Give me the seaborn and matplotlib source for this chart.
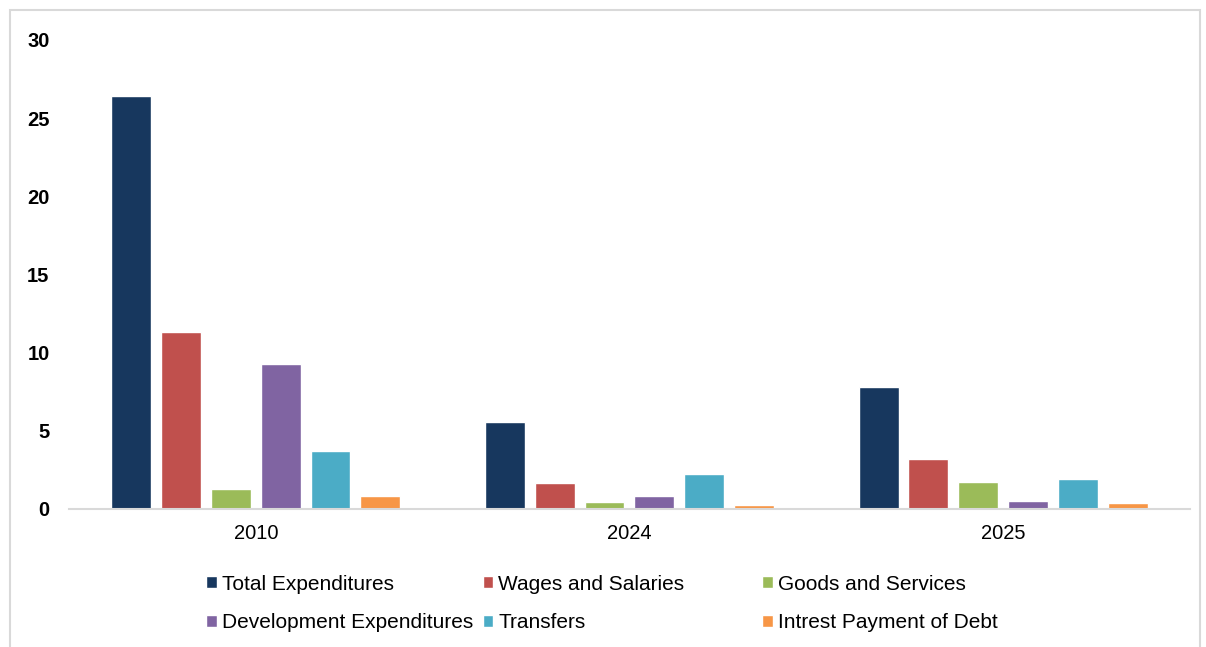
import pandas as pd
import numpy as np
import matplotlib.pyplot as plt
import seaborn as sns
from matplotlib.patches import Rectangle

# Datos
years = ['2010', '2024', '2025']
series = ['Total Expenditures', 'Wages and Salaries', 'Goods and Services',
          'Development Expenditures', 'Transfers', 'Intrest Payment of Debt']
total_exp = [26.4, 5.55, 7.8]
wages = [11.3, 1.65, 3.2]
goods = [1.3, 0.45, 1.7]
development = [9.25, 0.82, 0.52]
transfers = [3.68, 2.22, 1.95]
interest = [0.8, 0.28, 0.38]
colores = ['#17375E', '#C0504D', '#9BBB59', '#8064A2', '#4BACC6', '#F79646']

valores = [total_exp, wages, goods, development, transfers, interest]
df = pd.DataFrame({
    'Year': np.repeat([years], len(series), axis=0).ravel(),
    'Serie': np.repeat(series, len(years)),
    'Valor': np.concatenate(valores),
})

sns.set_style('white')
plt.rcParams['font.family'] = ['Liberation Sans', 'DejaVu Sans']
plt.rcParams['text.color'] = 'black'
plt.rcParams['xtick.color'] = 'black'
plt.rcParams['ytick.color'] = 'black'

fig = plt.figure(figsize=(12.06, 6.47), dpi=100)
ax = fig.add_axes([0.0572, 0.2133, 0.9295, 0.7249])

sns.barplot(data=df, x='Year', y='Valor', hue='Serie', order=years, hue_order=series,
            palette=colores, width=0.8, gap=0.2, ax=ax, saturation=1)

ax.set_ylim(0, 30)
ax.set_yticks([0, 5, 10, 15, 20, 25, 30])
ax.set_xlabel('')
ax.set_ylabel('')
for s in ['top', 'right', 'left']:
    ax.spines[s].set_visible(False)
ax.spines['bottom'].set_color('#d9d9d9')
ax.spines['bottom'].set_linewidth(1.5)
ax.tick_params(axis='y', length=0, pad=14, labelsize=14.5)
ax.tick_params(axis='x', length=0, pad=11, labelsize=14.5)
for lab in ax.get_yticklabels():
    lab.set_fontweight('bold')

# Leyenda en 3 columnas separadas (como en Excel)
handles, labels = ax.get_legend_handles_labels()
ax.get_legend().remove()
col_x = [0.1625, 0.3915, 0.6235]
for i, x in enumerate(col_x):
    leg = fig.legend([handles[i], handles[i + 3]], [labels[i], labels[i + 3]],
                     loc='upper left', bbox_to_anchor=(x, 0.128), frameon=False,
                     fontsize=15, handlelength=0.5, handleheight=0.5,
                     handletextpad=0.25, labelspacing=0.95, borderpad=0)

# Borde exterior gris
fig.patches.append(Rectangle((10 / 1206, -0.05), 1190 / 1206, 1.05 - 10 / 647,
                             transform=fig.transFigure, fill=False,
                             edgecolor='#d9d9d9', linewidth=1.5))

fig.savefig('out.png', dpi=100)
